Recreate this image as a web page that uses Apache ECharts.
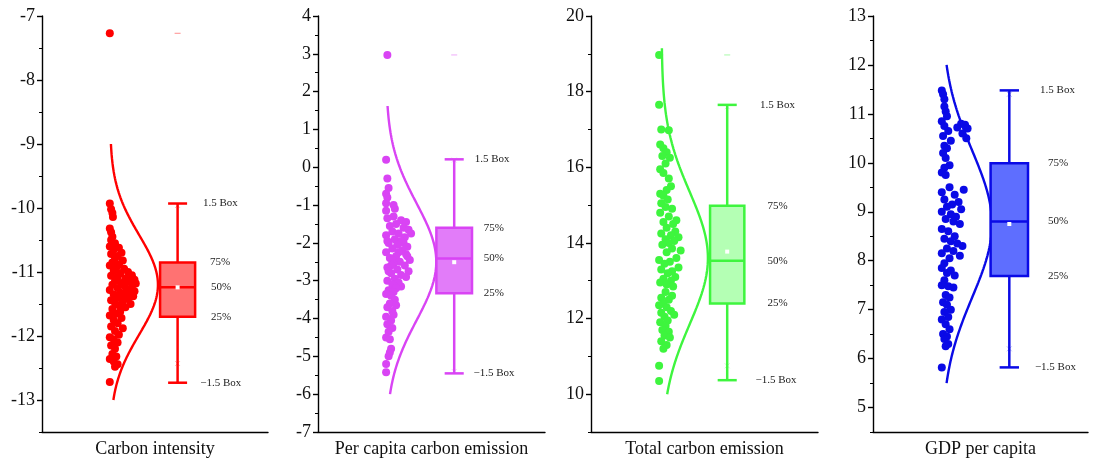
<!DOCTYPE html>
<html><head><meta charset="utf-8">
<script src="https://cdn.jsdelivr.net/npm/echarts@6/dist/echarts.min.js"></script>
<style>html,body{margin:0;padding:0;background:#fff}#c{width:1094px;height:461px}</style>
</head><body><div id="c"></div>
<script>
// ---------------- DATA ----------------
const categories = ['Carbon intensity', 'Per capita carbon emission', 'Total carbon emission', 'GDP per capita'];

// y-axis ranges and major tick labels
const ciRange = [-13.5, -7];  const ciTicks = [-13, -12, -11, -10, -9, -8, -7];
const pcRange = [-7, 4];      const pcTicks = [-7, -6, -5, -4, -3, -2, -1, 0, 1, 2, 3, 4];
const tcRange = [9, 20];      const tcTicks = [10, 12, 14, 16, 18, 20];
const gdpRange = [4.5, 13];   const gdpTicks = [5, 6, 7, 8, 9, 10, 11, 12, 13];
const minorStep = [0.5, 0.5, 1, 0.5];

// box statistics: [-1.5 Box (lower whisker), Q1 (25%), median (50%), Q3 (75%), 1.5 Box (upper whisker)]
const ciBox  = [-12.73, -11.70, -11.24, -10.85, -9.93];
const pcBox  = [-5.45, -3.33, -2.41, -1.60, 0.21];
const tcBox  = [10.37, 12.40, 13.53, 14.98, 17.65];
const gdpBox = [5.82, 7.69, 8.80, 9.99, 11.48];
const boxLabels = ['\u22121.5 Box', '25%', '50%', '75%', '1.5 Box'];
const means = [-11.24, -2.51, 13.77, 8.75];
const outliers = [[-7.27], [2.97], [18.97], []];
const pctMarks = [[-12.43, -9.96], [-5.40, 0.19], [10.75, 17.60], [6.20, 11.40]];

// normal curve: [mean, sd, from, to]
const curves = [[-11.2, 0.78, -13, -9], [-2.5, 1.55, -6, 1.62], [13.6, 1.75, 10, 19.15], [8.75, 1.5, 5.5, 12.0]];

// raw points (values) and their jitter (0..1 across the point strip)
const ciVals = [-7.27,-9.93,-10.02,-10.08,-10.14,-10.32,-10.38,-10.45,-10.50,-10.55,-10.60,-10.62,-10.65,-10.70,-10.72,-10.75,-10.78,-10.82,-10.85,-10.88,-10.90,-10.93,-10.95,-10.98,-11.00,-11.02,-11.05,-11.06,-11.08,-11.10,-11.12,-11.14,-11.15,-11.17,-11.18,-11.20,-11.21,-11.23,-11.25,-11.27,-11.28,-11.30,-11.32,-11.33,-11.35,-11.37,-11.38,-11.40,-11.42,-11.44,-11.46,-11.48,-11.50,-11.52,-11.55,-11.58,-11.62,-11.65,-11.68,-11.72,-11.75,-11.80,-11.85,-11.88,-11.92,-11.98,-12.02,-12.05,-12.10,-12.15,-12.20,-12.28,-12.32,-12.36,-12.40,-12.44,-12.48,-12.72];
const ciJit  = [0,0,0.05,0.1,0.12,0,0.05,0.1,0.05,0.2,0,0.35,0.15,0.45,0.05,0.3,0.2,0.5,0.1,0.35,0,0.25,0.55,0.15,0.7,0.4,0.85,0.05,0.3,0.6,0.95,0.2,0.75,0.45,1.0,0.1,0.55,0.85,0.3,0.65,0,0.95,0.4,0.75,0.15,0.55,0.9,0.3,0.7,0.05,0.5,0.2,0.8,0.35,0.6,0.1,0.4,0.25,0,0.45,0.15,0.3,0.05,0.5,0.2,0.35,0,0.15,0.3,0.05,0.2,0.1,0.25,0,0.15,0.3,0.2,0];

const pcVals = [2.97,0.20,-0.30,-0.55,-0.70,-0.80,-0.95,-1.00,-1.10,-1.15,-1.30,-1.35,-1.40,-1.45,-1.50,-1.55,-1.60,-1.65,-1.70,-1.75,-1.75,-1.80,-1.85,-1.90,-1.95,-1.95,-2.00,-2.00,-2.05,-2.10,-2.15,-2.20,-2.25,-2.25,-2.30,-2.35,-2.35,-2.40,-2.45,-2.45,-2.50,-2.55,-2.60,-2.60,-2.65,-2.70,-2.75,-2.75,-2.80,-2.85,-2.90,-2.95,-3.00,-3.05,-3.10,-3.15,-3.20,-3.25,-3.30,-3.35,-3.40,-3.50,-3.60,-3.65,-3.70,-3.80,-3.90,-3.95,-4.05,-4.15,-4.25,-4.35,-4.50,-4.55,-4.80,-4.90,-5.00,-5.20,-5.42];
const pcJit  = [0.05,0,0.05,0.1,0,0.05,0,0.3,0.35,0,0.3,0.05,0.6,0.8,0.4,0.15,0.7,0.9,0.25,0.5,1.0,0,0.75,0.35,0.6,0.05,0.1,0.7,0.45,0.85,0.25,0.65,0,0.5,0.8,0.4,0.85,0.15,0.95,0.25,0.55,0.3,0.75,0.2,0.05,0.45,0.9,0.1,0.2,0.6,0.8,0.35,0.05,0.5,0.25,0.6,0.4,0.1,0.3,0,0.2,0.35,0.15,0.4,0.05,0.25,0.3,0,0.2,0.05,0.25,0.1,0,0.15,0.2,0.15,0.1,0,0];

const tcVals = [18.97,17.65,17.00,16.98,16.60,16.50,16.40,16.30,16.25,16.10,15.95,15.85,15.70,15.50,15.40,15.30,15.25,15.15,15.05,14.95,14.90,14.80,14.70,14.60,14.55,14.50,14.40,14.30,14.25,14.20,14.15,14.10,14.05,14.00,13.95,13.85,13.80,13.75,13.60,13.55,13.50,13.45,13.35,13.30,13.25,13.20,13.10,13.05,13.00,12.95,12.90,12.85,12.70,12.60,12.55,12.50,12.40,12.35,12.30,12.20,12.15,12.10,12.05,11.95,11.90,11.80,11.70,11.65,11.55,11.50,11.40,11.30,11.20,10.75,10.35];
const tcJit  = [0,0,0.1,0.45,0.05,0.2,0.35,0.15,0.5,0.3,0.05,0.2,0.45,0.55,0.35,0.05,0.2,0.4,0.1,0.3,0.6,0.05,0.45,0.8,0.2,0.65,0.35,0.75,0.1,0.55,0.9,0.3,0.7,0.45,0.15,0.6,1.0,0.35,0.8,0,0.5,0.25,0.9,0.1,0.6,0.4,0.75,0.2,0.55,0.05,0.35,0.65,0.3,0.6,0.1,0.45,0.2,0,0.35,0.55,0.1,0.7,0.25,0.4,0.05,0.3,0.15,0.45,0.25,0.5,0.1,0.35,0.2,0,0];

const gdpVals = [11.48,11.40,11.30,11.15,11.05,10.95,10.85,10.80,10.78,10.75,10.72,10.70,10.65,10.60,10.55,10.50,10.45,10.35,10.30,10.20,10.10,9.95,9.90,9.80,9.75,9.50,9.45,9.40,9.35,9.25,9.20,9.15,9.10,9.05,9.00,8.95,8.90,8.85,8.80,8.75,8.65,8.60,8.50,8.45,8.40,8.35,8.30,8.25,8.20,8.15,8.10,8.05,7.95,7.85,7.80,7.75,7.70,7.60,7.50,7.48,7.45,7.30,7.25,7.15,7.10,7.00,6.95,6.85,6.80,6.70,6.60,6.50,6.45,6.40,6.30,6.25,5.82];
const gdpJit  = [0,0.05,0.1,0.1,0.15,0.2,0,0.75,0.9,0.1,0.6,1.0,0.25,0.8,0.05,0.95,0.35,0.1,0.2,0.05,0.15,0.3,0.1,0,0.15,0.3,0.85,0,0.5,0.1,0.65,0.4,0.2,0.75,0,0.35,0.55,0.15,0.45,0.7,0,0.25,0.5,0.1,0.35,0.6,0.8,0.2,0.45,0,0.7,0.3,0.1,0,0.35,0.2,0.5,0.1,0,0.25,0.45,0.15,0.3,0.05,0.2,0.35,0.1,0.25,0,0.15,0.3,0.05,0.2,0.1,0.25,0.15,0];

// ---------------- STYLE / LAYOUT ----------------
const lineColors = ['#FF0000', '#D944F4', '#3EF53E', '#0A0AE6'];
const fillColors = ['#FF7272', '#E27CF9', '#B4FFB4', '#5E6EFF'];
const grids = [{left: 42, width: 226}, {left: 318, width: 227}, {left: 591, width: 227}, {left: 873, width: 215}];
// fractions of the panel width
const layout = [
  {s0: 0.30, s1: 0.415, base: 0.301, peak: 0.212, bx: 0.60, bw: 0.155, cw: 0.084, lab: [0.700, 0.748, 0.748, 0.743, 0.712]},
  {s0: 0.30, s1: 0.41, base: 0.300, peak: 0.221, bx: 0.60, bw: 0.157, cw: 0.084, lab: [0.685, 0.73, 0.73, 0.73, 0.690]},
  {s0: 0.30, s1: 0.395, base: 0.311, peak: 0.204, bx: 0.60, bw: 0.151, cw: 0.084, lab: [0.725, 0.778, 0.778, 0.778, 0.745]},
  {s0: 0.32, s1: 0.44, base: 0.320, peak: 0.233, bx: 0.634, bw: 0.174, cw: 0.09, lab: [0.753, 0.814, 0.814, 0.814, 0.777]}
];

const ranges = [ciRange, pcRange, tcRange, gdpRange];
const ticks = [ciTicks, pcTicks, tcTicks, gdpTicks];
const boxes = [ciBox, pcBox, tcBox, gdpBox];
const vals = [ciVals, pcVals, tcVals, gdpVals];
const jits = [ciJit, pcJit, tcJit, gdpJit];

const FONT = '"Liberation Serif", "Times New Roman", serif';

const option = {
  animation: false,
  backgroundColor: '#fff',
  grid: [], xAxis: [], yAxis: [], series: []
};

for (let i = 0; i < 4; i++) {
  const L = layout[i];
  option.grid.push({left: grids[i].left, width: grids[i].width, top: 16, height: 416, containLabel: false});
  option.xAxis.push({
    type: 'category', gridIndex: i, position: 'bottom', data: [categories[i]],
    axisLine: {onZero: false, lineStyle: {color: '#000', width: 1.4}},
    axisTick: {alignWithLabel: true, length: 5, lineStyle: {color: '#000', width: 1.4}},
    axisLabel: {color: '#111', fontFamily: FONT, fontSize: 18, margin: 8}
  });
  option.xAxis.push({type: 'value', gridIndex: i, position: 'bottom', min: 0, max: 1, show: false});
  option.yAxis.push({
    type: 'value', gridIndex: i, position: 'left', min: ranges[i][0], max: ranges[i][1],
    axisLine: {show: true, onZero: false, lineStyle: {color: '#000', width: 1.4}},
    axisTick: {show: true, length: 5, customValues: ticks[i], lineStyle: {color: '#000', width: 1.4}},
    axisLabel: {customValues: ticks[i], color: '#111', fontFamily: FONT, fontSize: 18, margin: 7},
    splitLine: {show: false}
  });
  option.yAxis.push({
    type: 'value', gridIndex: i, position: 'left', min: ranges[i][0], max: ranges[i][1], interval: minorStep[i],
    axisLine: {show: false, onZero: false},
    axisTick: {show: true, length: 3, lineStyle: {color: '#000', width: 1}},
    axisLabel: {show: false}, splitLine: {show: false}
  });

  const xa = 2 * i + 1, ya = 2 * i;
  option.series.push({
    type: 'scatter', xAxisIndex: xa, yAxisIndex: ya, symbol: 'circle', symbolSize: 8,
    itemStyle: {color: lineColors[i], opacity: 1},
    data: vals[i].map((v, k) => [L.s0 + jits[i][k] * (L.s1 - L.s0), v]), z: 2
  });
  const [mu, sd, c0, c1] = curves[i];
  const cdata = [];
  for (let k = 0; k <= 120; k++) {
    const y = c0 + (c1 - c0) * k / 120;
    cdata.push([L.base + L.peak * Math.exp(-(y - mu) * (y - mu) / (2 * sd * sd)), y]);
  }
  option.series.push({
    type: 'line', xAxisIndex: xa, yAxisIndex: ya, data: cdata, showSymbol: false, symbol: 'none',
    lineStyle: {color: lineColors[i], width: 2.4}, z: 3, silent: true
  });
  const b = boxes[i];
  option.series.push({
    type: 'custom', xAxisIndex: xa, yAxisIndex: ya, z: 4,
    data: [[L.bx, b[0], b[1], b[2], b[3], b[4], means[i]]],
    renderItem: function (params, api) {
      const cx = api.value(0);
      const X = api.coord([cx, 0])[0];
      const xl = api.coord([cx - L.bw / 2, 0])[0], xr = api.coord([cx + L.bw / 2, 0])[0];
      const cl = api.coord([cx - L.cw / 2, 0])[0], cr = api.coord([cx + L.cw / 2, 0])[0];
      const Y = v => api.coord([cx, v])[1];
      const yLo = Y(api.value(1)), yQ1 = Y(api.value(2)), yMed = Y(api.value(3)), yQ3 = Y(api.value(4)), yUp = Y(api.value(5)), yMean = Y(api.value(6));
      const col = lineColors[i];
      const ls = {stroke: col, lineWidth: 2.5};
      const ch = [];
      ch.push({type: 'line', shape: {x1: X, y1: yUp, x2: X, y2: yQ3}, style: ls});
      ch.push({type: 'line', shape: {x1: X, y1: yQ1, x2: X, y2: yLo}, style: ls});
      ch.push({type: 'line', shape: {x1: cl, y1: yUp, x2: cr, y2: yUp}, style: ls});
      ch.push({type: 'line', shape: {x1: cl, y1: yLo, x2: cr, y2: yLo}, style: ls});
      ch.push({type: 'rect', shape: {x: xl, y: yQ3, width: xr - xl, height: yQ1 - yQ3}, style: {fill: fillColors[i], stroke: col, lineWidth: 2.5}});
      ch.push({type: 'line', shape: {x1: xl, y1: yMed, x2: xr, y2: yMed}, style: ls});
      ch.push({type: 'rect', shape: {x: X - 2, y: yMean - 2, width: 4, height: 4}, style: {fill: '#fff'}});
      outliers[i].forEach(o => {
        const yo = Y(o);
        ch.push({type: 'line', shape: {x1: X - 3, y1: yo, x2: X + 3, y2: yo}, style: {stroke: col, lineWidth: 1, opacity: 0.45}});
      });
      pctMarks[i].forEach(p => {
        const yp = Y(p);
        ch.push({type: 'line', shape: {x1: X - 2.5, y1: yp - 2.5, x2: X + 2.5, y2: yp + 2.5}, style: {stroke: col, lineWidth: 0.8, opacity: 0.35}});
        ch.push({type: 'line', shape: {x1: X - 2.5, y1: yp + 2.5, x2: X + 2.5, y2: yp - 2.5}, style: {stroke: col, lineWidth: 0.8, opacity: 0.35}});
      });
      const lv = [api.value(1), api.value(2), api.value(3), api.value(4), api.value(5)];
      lv.forEach((v, k) => {
        ch.push({type: 'text', style: {
          text: boxLabels[k], x: api.coord([L.lab[k], v])[0], y: Y(v),
          fill: '#222', font: '11px ' + FONT, align: 'left', verticalAlign: 'middle'
        }});
      });
      return {type: 'group', children: ch};
    }
  });
}

const chart = echarts.init(document.getElementById('c'), null, {renderer: 'canvas'});
chart.setOption(option);
</script>
</body></html>
